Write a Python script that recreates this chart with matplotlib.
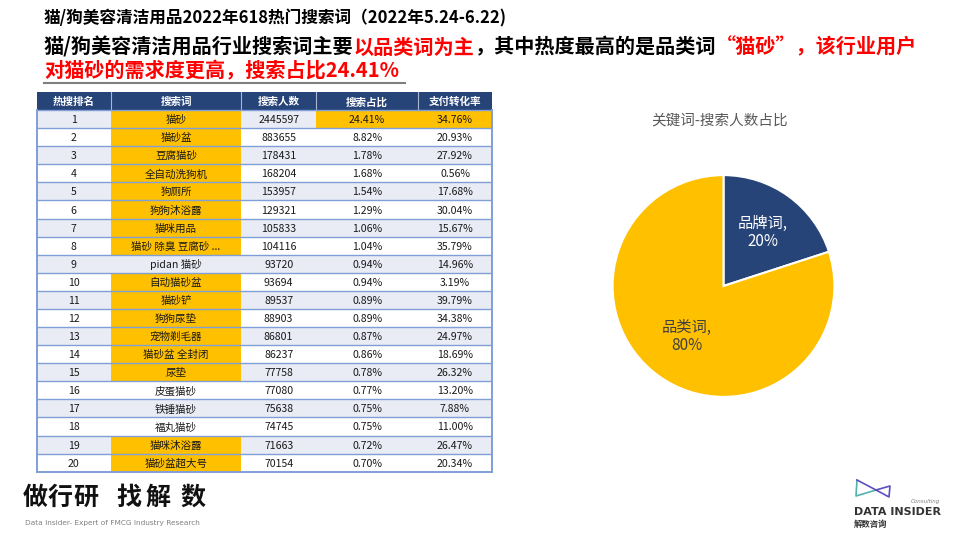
import numpy as np
import matplotlib
matplotlib.use("Agg")
import matplotlib.pyplot as plt
from matplotlib.patches import Rectangle

# ================ 基础设置 ================
plt.rcParams['font.family'] = ['Noto Sans CJK SC', 'DejaVu Sans']
FIG_W, FIG_H = 960, 540
DPI = 100

# ================ 数据 ================
HEADERS = ['热搜排名', '搜索词', '搜索人数', '搜索占比', '支付转化率']
RANKS = [1, 2, 3, 4, 5, 6, 7, 8, 9, 10, 11, 12, 13, 14, 15, 16, 17, 18, 19, 20]
KEYWORDS = ['猫砂', '猫砂盆', '豆腐猫砂', '全自动洗狗机', '狗厕所', '狗狗沐浴露', '猫咪用品',
            '猫砂 除臭 豆腐砂 ...', 'pidan 猫砂', '自动猫砂盆', '猫砂铲', '狗狗尿垫', '宠物剃毛器',
            '猫砂盆 全封闭', '尿垫', '皮蛋猫砂', '铁锤猫砂', '福丸猫砂', '猫咪沐浴露', '猫砂盆超大号']
SEARCH_USERS = [2445597, 883655, 178431, 168204, 153957, 129321, 105833, 104116, 93720, 93694,
                89537, 88903, 86801, 86237, 77758, 77080, 75638, 74745, 71663, 70154]
SEARCH_SHARE = [24.41, 8.82, 1.78, 1.68, 1.54, 1.29, 1.06, 1.04, 0.94, 0.94,
                0.89, 0.89, 0.87, 0.86, 0.78, 0.77, 0.75, 0.75, 0.72, 0.70]
PAY_RATE = [34.76, 20.93, 27.92, 0.56, 17.68, 30.04, 15.67, 35.79, 14.96, 3.19,
            39.79, 34.38, 24.97, 18.69, 26.32, 13.20, 7.88, 11.00, 26.47, 20.34]
# 是否为品类词（黄色高亮）
IS_CATEGORY = [True, True, True, True, True, True, True, True, False, True,
               True, True, True, True, True, False, False, False, True, True]

PIE_LABELS = ['品牌词', '品类词']
PIE_VALUES = [20, 80]

# ================ 样式 ================
NAVY = '#264478'
GOLD = '#FFC000'
STRIPE = '#E9EBF5'
LINE_BLUE = '#7F9FD6'
RED = '#FF0000'
# 表格位置（像素）
TABLE_LEFT, TABLE_TOP, TABLE_RIGHT, TABLE_BOTTOM = 36.7, 92, 491.7, 471.7
COL_WIDTHS = [74, 130.6, 74.7, 102.3, 73.4]
TOP_ROW_HIGHLIGHT_COLS = [3, 4]
TABLE_FONT = 7.6
# 饼图位置（像素）
PIE_CX, PIE_CY, PIE_R = 723.5, 286, 112
# 饼图标签离圆心的距离（半径倍数）
PIE_LABEL_DIST = [0.6, 0.56]


def px_rect(left, top, width, height):
    return [left / FIG_W, 1 - (top + height) / FIG_H, width / FIG_W, height / FIG_H]


def draw_segments(ax, x, y, segments, size):
    # 多种颜色拼接成一行文字
    renderer = ax.figure.canvas.get_renderer()
    for text, color in segments:
        t = ax.text(x, y, text, color=color, fontsize=size, fontweight='bold', ha='left', va='center')
        x += t.get_window_extent(renderer).width
    return x


if __name__ == '__main__':
    fig = plt.figure(figsize=(FIG_W / DPI, FIG_H / DPI), dpi=DPI)

    # 覆盖整张图的装饰层，坐标为像素
    deco = fig.add_axes([0, 0, 1, 1])
    deco.set_xlim(0, FIG_W)
    deco.set_ylim(FIG_H, 0)
    deco.axis('off')

    # ---------- 标题 ----------
    deco.text(44, 18, '猫/狗美容清洁用品2022年618热门搜索词（2022年5.24-6.22)', fontsize=12,
              fontweight='bold', color='black', ha='left', va='center')
    draw_segments(deco, 44, 47, [
        ('猫/狗美容清洁用品行业搜索词主要', 'black'),
        ('以品类词为主', RED),
        ('，其中热度最高的是品类词', 'black'),
        ('“猫砂”，该行业用户', RED),
    ], 14.5)
    end_x = draw_segments(deco, 44, 71, [('对猫砂的需求度更高，搜索占比24.41%', RED)], 14.5)
    deco.plot([44, end_x + 6], [83, 83], color='#7F7F7F', lw=1.5)

    # ---------- 表格 ----------
    # x 轴为列宽累计，y 轴为行号（0 为表头）
    n_rows = len(RANKS)
    n_cols = len(HEADERS)
    col_edges = np.concatenate([[0], np.cumsum(COL_WIDTHS)])
    tab_ax = fig.add_axes(px_rect(TABLE_LEFT, TABLE_TOP, TABLE_RIGHT - TABLE_LEFT, TABLE_BOTTOM - TABLE_TOP))
    tab_ax.set_xlim(0, col_edges[-1])
    tab_ax.set_ylim(n_rows + 1, 0)
    tab_ax.axis('off')

    # 表头
    tab_ax.add_patch(Rectangle((0, 0), col_edges[-1], 1, facecolor=NAVY, edgecolor='none'))
    for c, h in enumerate(HEADERS):
        tab_ax.text((col_edges[c] + col_edges[c + 1]) / 2, 0.5, h, color='white', fontsize=TABLE_FONT,
                    fontweight='bold', ha='center', va='center_baseline')
    for xe in col_edges[1:-1]:
        tab_ax.plot([xe, xe], [0, 1], color='#A9B7D0', lw=0.8)

    # 数据行
    for i in range(n_rows):
        y0 = i + 1
        row_face = STRIPE if i % 2 == 0 else 'white'
        tab_ax.add_patch(Rectangle((0, y0), col_edges[-1], 1, facecolor=row_face, edgecolor='none'))
        gold_cols = []
        if IS_CATEGORY[i]:
            gold_cols.append(1)
        if i == 0:
            gold_cols += TOP_ROW_HIGHLIGHT_COLS
        for c in gold_cols:
            tab_ax.add_patch(Rectangle((col_edges[c], y0), COL_WIDTHS[c], 1, facecolor=GOLD, edgecolor='none'))
        values = [str(RANKS[i]), KEYWORDS[i], str(SEARCH_USERS[i]),
                  f'{SEARCH_SHARE[i]:.2f}%', f'{PAY_RATE[i]:.2f}%']
        for c, v in enumerate(values):
            tab_ax.text((col_edges[c] + col_edges[c + 1]) / 2, y0 + 0.5, v, color='#1A1A1A',
                        fontsize=TABLE_FONT, ha='center', va='center_baseline')
        tab_ax.plot([0, col_edges[-1]], [y0, y0], color=LINE_BLUE, lw=1.0)
    # 外框
    tab_ax.plot([0, col_edges[-1]], [n_rows + 1, n_rows + 1], color=LINE_BLUE, lw=1.4, clip_on=False)
    tab_ax.plot([0, 0], [1, n_rows + 1], color=LINE_BLUE, lw=1.4, clip_on=False)
    tab_ax.plot([col_edges[-1], col_edges[-1]], [1, n_rows + 1], color=LINE_BLUE, lw=1.4, clip_on=False)

    # ---------- 饼图 ----------
    deco.text(720, 120, '关键词-搜索人数占比', fontsize=10.5, color='#595959', ha='center', va='center')
    pie_ax = fig.add_axes(px_rect(PIE_CX - PIE_R, PIE_CY - PIE_R, 2 * PIE_R, 2 * PIE_R))
    wedges, _ = pie_ax.pie(PIE_VALUES, colors=[NAVY, GOLD], startangle=90, counterclock=False,
                           wedgeprops={'edgecolor': 'white', 'linewidth': 1.5})
    # 标签放在扇区中线方向
    for w, lab, val, dist, col in zip(wedges, PIE_LABELS, PIE_VALUES, PIE_LABEL_DIST, ['white', '#404040']):
        ang = np.deg2rad((w.theta1 + w.theta2) / 2)
        pie_ax.text(dist * np.cos(ang), dist * np.sin(ang), f'{lab},\n{val}%', color=col, fontsize=11,
                    ha='center', va='center', linespacing=1.1)
    pie_ax.set_xlim(-1.01, 1.01)
    pie_ax.set_ylim(-1.01, 1.01)
    pie_ax.set_aspect('equal')

    # ---------- 左下角标识 ----------
    for ch, cx in zip('做行研找解数', [35, 60, 86, 129, 158, 193]):
        deco.text(cx, 498, ch, fontsize=18, fontweight='bold', color='#111111', ha='center', va='center')
    deco.text(25, 523, 'Data Insider- Expert of FMCG Industry Research', fontsize=5.3,
              color='#808080', family='DejaVu Sans', ha='left', va='center')

    # ---------- 右下角标识 ----------
    deco.plot([857, 856, 876], [480, 496, 490], color='#4FB3B0', lw=1.2)
    deco.plot([857, 876, 889, 890, 876], [480, 490, 497, 486, 490], color='#5B4FC4', lw=1.2)
    deco.text(940, 501, 'Consulting', fontsize=4, style='italic', color='#7F7F7F',
              family='DejaVu Sans', ha='right', va='center')
    deco.text(854, 512, 'DATA INSIDER', fontsize=8, fontweight='bold', color='#333333',
              family='DejaVu Sans', ha='left', va='center')
    deco.text(854, 524, '解数咨询', fontsize=6, fontweight='bold', color='#333333',
              ha='left', va='center')

    plt.savefig('out.png', dpi=DPI)
